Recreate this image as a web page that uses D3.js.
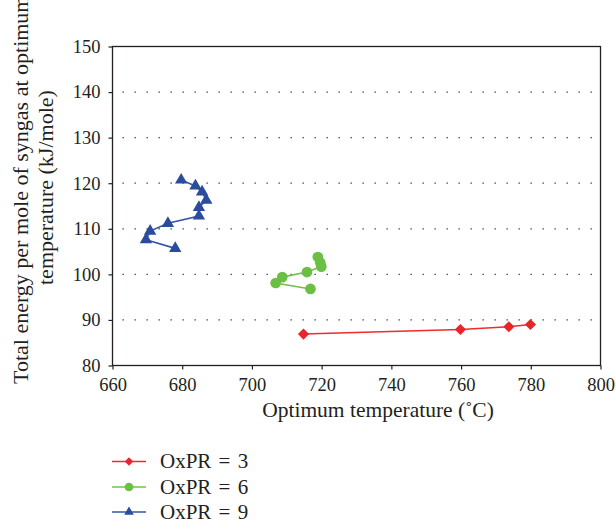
<!DOCTYPE html>
<html><head><meta charset="utf-8">
<script src="https://cdn.jsdelivr.net/npm/d3@7/dist/d3.min.js"></script>
<style>body{margin:0;background:#fff;} svg text{font-family:"Liberation Serif","Times New Roman",serif !important;fill:#231f20;}</style>
</head><body><svg id="c" width="616" height="526"></svg>
<script>
const xTicks = [660,680,700,720,740,760,780,800];
const yTicks = [80,90,100,110,120,130,140,150];
const seriesNames = ["OxPR = 3","OxPR = 6","OxPR = 9"];
const oxpr3X = [714.8,759.8,773.7,779.9];
const oxpr3Y = [86.9,87.9,88.5,89.0];
const oxpr6X = [718.9,719.6,719.9,715.8,708.7,706.8,716.8];
const oxpr6Y = [103.8,102.6,101.7,100.5,99.4,98.1,96.8];
const oxpr9X = [679.7,683.8,685.7,686.9,684.8,684.8,675.9,670.8,669.6,678.0];
const oxpr9Y = [120.7,119.4,118.1,116.3,114.7,112.8,111.2,109.5,107.6,105.7];

const svg = d3.select("#c");
const L=112.5, R=600.5, T=46.5, B=365.5;
const x = d3.scaleLinear().domain([660,800]).range([L,R]);
const y = d3.scaleLinear().domain([80,150]).range([B,T]);

// grid
svg.append("g").selectAll("line").data(yTicks.filter(v=>v>80&&v<150)).join("line")
  .attr("x1",L+10).attr("x2",R).attr("y1",d=>y(d)).attr("y2",d=>y(d))
  .attr("stroke","#333").attr("stroke-width",1.3).attr("stroke-dasharray","1.3,10.7");

// frame
svg.append("rect").attr("x",L).attr("y",T).attr("width",R-L).attr("height",B-T)
  .attr("fill","none").attr("stroke","#231f20").attr("stroke-width",1.3);

const xa = svg.append("g").attr("transform",`translate(0,${B})`)
  .call(d3.axisBottom(x).tickValues(xTicks).tickSize(4).tickPadding(8).tickSizeOuter(0));
const ya = svg.append("g").attr("transform",`translate(${L},0)`)
  .call(d3.axisLeft(y).tickValues(yTicks).tickSize(4).tickPadding(8).tickSizeOuter(0));
[xa,ya].forEach(a=>{a.attr("font-family",null).attr("font-size",null);
  a.select(".domain").remove();a.selectAll("line").attr("stroke","#231f20").attr("stroke-width",1.2);
  a.selectAll("text").style("font-size","18.5px").attr("fill","#231f20");});

svg.append("text").attr("x",378).attr("y",417).attr("text-anchor","middle").style("font-size","21.5px")
  .text("Optimum temperature (˚C)");
svg.append("text").attr("transform","translate(28,384) rotate(-90)").attr("text-anchor","start").style("font-size","22px")
  .text("Total energy per mole of syngas at optimum");
svg.append("text").attr("transform","translate(53,285) rotate(-90)").attr("text-anchor","start").style("font-size","22px")
  .text("temperature (kJ/mole)");

const series = [
  {name:seriesNames[0], xs:oxpr3X, ys:oxpr3Y, line:"#ee2b2f", fill:"#e8262a", sym:d3.symbolDiamond2, size:80, lsize:45},
  {name:seriesNames[1], xs:oxpr6X, ys:oxpr6Y, line:"#74c04f", fill:"#6cbf45", sym:d3.symbolCircle, size:90, lsize:60},
  {name:seriesNames[2], xs:oxpr9X, ys:oxpr9Y, line:"#3556a6", fill:"#2a4b9e", sym:d3.symbolTriangle, size:66, lsize:40}
];
series.forEach(s=>{
  const pts = s.xs.map((v,i)=>[v,s.ys[i]]);
  svg.append("path").datum(pts).attr("fill","none").attr("stroke",s.line).attr("stroke-width",1.6)
    .attr("d",d3.line().x(d=>x(d[0])).y(d=>y(d[1])));
  svg.append("g").selectAll("path").data(pts).join("path")
    .attr("transform",d=>`translate(${x(d[0])},${y(d[1])})`)
    .attr("d",d3.symbol().type(s.sym).size(s.size)).attr("fill",s.fill);
});

// legend
const lg = svg.append("g");
series.forEach((s,i)=>{
  const ly = [461.5,487,512][i];
  lg.append("line").attr("x1",112).attr("x2",146).attr("y1",ly).attr("y2",ly).attr("stroke",s.line).attr("stroke-width",1.6);
  lg.append("path").attr("transform",`translate(129,${ly})`).attr("d",d3.symbol().type(s.sym).size(s.lsize)).attr("fill",s.fill);
  lg.append("text").attr("x",160).attr("y",ly+6.5).style("font-size","21px").style("word-spacing","2px").text(s.name);
});
</script></body></html>
